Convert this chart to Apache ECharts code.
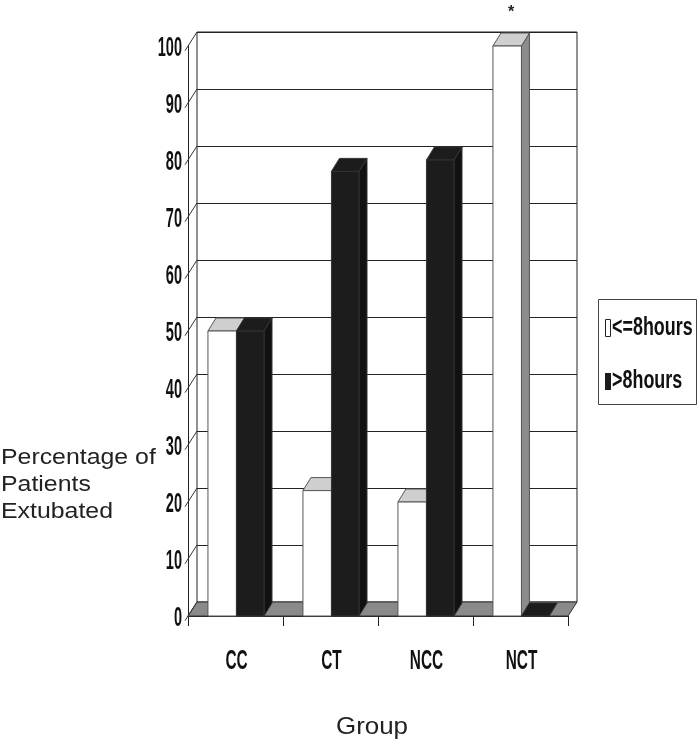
<!DOCTYPE html>
<html>
<head>
<meta charset="utf-8">
<script src="https://cdn.jsdelivr.net/npm/echarts@6/dist/echarts.min.js"></script>
<style>
html,body{margin:0;padding:0;background:#fff;}
#c{width:700px;height:739px;}
</style>
</head>
<body>
<div id="c"></div>
<script>
// ---- data ----
const categories = ['CC', 'CT', 'NCC', 'NCT'];
const le8hours = [50, 22, 20, 100];   // white bars
const gt8hours = [50, 78, 80, 0];     // black bars
const annotations = ['', '', '', '*'];
const yTicks = [0, 10, 20, 30, 40, 50, 60, 70, 80, 90, 100];
const seriesNames = ['<=8hours', '>8hours'];
const yTitleLines = ['Percentage of', 'Patients', 'Extubated'];
const xTitle = 'Group';

// ---- style constants ----
const DEPTH_X = 9, DEPTH_Y = -14;       // floor / wall depth
const BAR_DX = 8, BAR_DY = -13;         // bar depth
const NARROW = 'bold 28px "Liberation Sans", Arial, sans-serif';
const WHITE_BAR = '#ffffff', BLACK_BAR = '#1c1c1c';

const chart = echarts.init(document.getElementById('c'), null, {renderer: 'canvas'});

function barRenderer(kind) {
  return function (params, api) {
    const i = api.value(0), v = api.value(1);
    const base = api.coord([i, 0]);
    const top = api.coord([i, v]);
    const bw = api.size([1, 0])[0];
    const x1 = base[0] + (kind === 0 ? -0.29 : 0.01) * bw;
    const x2 = base[0] + (kind === 0 ? 0.01 : 0.30) * bw;
    const y0 = base[1], yt = top[1];
    const front = kind === 0 ? WHITE_BAR : BLACK_BAR;
    const topC = kind === 0 ? '#cfcfcf' : BLACK_BAR;
    const side = kind === 0 ? '#8c8c8c' : '#111111';
    const edge = kind === 0 ? '#555' : '#333';
    const children = [
      {type: 'polygon', shape: {points: [[x2, yt], [x2 + BAR_DX, yt + BAR_DY], [x2 + BAR_DX, y0 + BAR_DY], [x2, y0]]},
       style: {fill: side, stroke: edge, lineWidth: 1}},
      {type: 'polygon', shape: {points: [[x1, yt], [x1 + BAR_DX, yt + BAR_DY], [x2 + BAR_DX, yt + BAR_DY], [x2, yt]]},
       style: {fill: topC, stroke: edge, lineWidth: 1}}
    ];
    if (y0 - yt > 0.5) {
      children.push({type: 'rect', shape: {x: x1, y: yt, width: x2 - x1, height: y0 - yt},
        style: {fill: front, stroke: edge, lineWidth: 1}});
    }
    const ann = api.value(2);
    if (kind === 0 && ann) {
      children.push({type: 'text', x: (x1 + x2) / 2 + BAR_DX / 2, y: yt + BAR_DY - 20,
        style: {text: ann, font: 'bold 16px "Liberation Sans", Arial, sans-serif', fill: '#222', align: 'center', verticalAlign: 'middle'}});
    }
    return {type: 'group', children: children};
  };
}

const LEGEND_FONT = 'bold 28px "Liberation Sans", Arial, sans-serif';

const option = {
  animation: false,
  backgroundColor: '#ffffff',
  grid: [
    {left: 188, top: 46, width: 380, height: 570, show: false},
    {left: 197, top: 32, width: 380, height: 570, show: true, backgroundColor: '#ffffff', borderColor: '#222', borderWidth: 1}
  ],
  xAxis: [
    {type: 'category', gridIndex: 0, data: categories, boundaryGap: true,
     axisLine: {show: true, lineStyle: {color: '#222', width: 1}},
     axisTick: {show: true, length: 10, interval: 0, lineStyle: {color: '#222'}},
     axisLabel: {show: false}, splitLine: {show: false}},
    {type: 'category', gridIndex: 1, data: categories, show: false}
  ],
  yAxis: [
    {type: 'value', gridIndex: 0, min: 0, max: 100, interval: 10,
     axisLine: {show: true, lineStyle: {color: '#222', width: 1}},
     axisTick: {show: false}, axisLabel: {show: false}, splitLine: {show: false}},
    {type: 'value', gridIndex: 1, min: 0, max: 100, interval: 10,
     axisLine: {show: false}, axisTick: {show: false}, axisLabel: {show: false},
     splitLine: {show: true, lineStyle: {color: '#222', width: 1}}}
  ],
  graphic: [
    {type: 'text', left: 1, top: 444, scaleX: 1.13,
     style: {text: yTitleLines.join('\n'), font: '22px "Liberation Sans", Arial, sans-serif', lineHeight: 27, fill: '#222'}},
    {type: 'text', x: 372, y: 727, scaleX: 1.08,
     style: {text: xTitle, font: '24px "Liberation Sans", Arial, sans-serif', fill: '#222', align: 'center', verticalAlign: 'middle'}},
    // legend
    {type: 'group', children: [
      {type: 'rect', shape: {x: 598.5, y: 299.5, width: 98, height: 105}, style: {fill: '#fff', stroke: '#444', lineWidth: 1}},
      {type: 'rect', shape: {x: 605.5, y: 319.5, width: 5, height: 17}, style: {fill: WHITE_BAR, stroke: '#222', lineWidth: 1}},
      {type: 'text', x: 612, y: 328, scaleX: 0.64, scaleY: 0.92,
       style: {text: seriesNames[0], font: LEGEND_FONT, fill: '#111', align: 'left', verticalAlign: 'middle'}},
      {type: 'rect', shape: {x: 605, y: 373, width: 6, height: 17}, style: {fill: BLACK_BAR}},
      {type: 'text', x: 612, y: 381, scaleX: 0.64, scaleY: 0.92,
       style: {text: seriesNames[1], font: LEGEND_FONT, fill: '#111', align: 'left', verticalAlign: 'middle'}}
    ]}
  ],
  series: [
    // floor
    {type: 'custom', xAxisIndex: 0, yAxisIndex: 0, silent: true, z: 1,
     data: [[0, 0]],
     renderItem: function (params, api) {
       const cs = params.coordSys;
       const yb = api.coord([0, 0])[1];
       const xl = cs.x, xr = cs.x + cs.width;
       return {type: 'polygon', shape: {points: [[xl, yb], [xl + DEPTH_X, yb + DEPTH_Y], [xr + DEPTH_X, yb + DEPTH_Y], [xr, yb]]},
               style: {fill: '#8a8a8a', stroke: '#333', lineWidth: 1}};
     }},
    // side wall diagonal gridlines + y tick labels
    {type: 'custom', xAxisIndex: 0, yAxisIndex: 0, silent: true, z: 1,
     data: yTicks.map(function (t) { return [0, t]; }),
     renderItem: function (params, api) {
       const cs = params.coordSys;
       const y = api.coord([0, api.value(1)])[1];
       const x = cs.x;
       return {type: 'group', children: [
         {type: 'line', shape: {x1: x - 3, y1: y + 3 * (-DEPTH_Y / DEPTH_X), x2: x + DEPTH_X, y2: y + DEPTH_Y},
          style: {stroke: '#333', lineWidth: 1}},
         {type: 'text', x: x - 6, y: y + 2, scaleX: 0.52,
          style: {text: String(api.value(1)), font: NARROW, fill: '#111', align: 'right', verticalAlign: 'middle'}}
       ]};
     }},
    // x category labels
    {type: 'custom', xAxisIndex: 0, yAxisIndex: 0, silent: true, z: 1,
     data: categories.map(function (c, i) { return [i, 0]; }),
     renderItem: function (params, api) {
       const p = api.coord([api.value(0), 0]);
       return {type: 'text', x: p[0] + 1, y: p[1] + 45, scaleX: 0.55,
               style: {text: categories[api.value(0)], font: NARROW, fill: '#111', align: 'center', verticalAlign: 'middle'}};
     }},
    {type: 'custom', name: seriesNames[0], xAxisIndex: 0, yAxisIndex: 0, z: 3,
     itemStyle: {color: WHITE_BAR, borderColor: '#222'},
     data: categories.map(function (c, i) { return [i, le8hours[i], annotations[i]]; }),
     encode: {x: 0, y: 1},
     renderItem: barRenderer(0)},
    {type: 'custom', name: seriesNames[1], xAxisIndex: 0, yAxisIndex: 0, z: 4,
     itemStyle: {color: BLACK_BAR},
     data: categories.map(function (c, i) { return [i, gt8hours[i], '']; }),
     encode: {x: 0, y: 1},
     renderItem: barRenderer(1)}
  ]
};
chart.setOption(option);
</script>
</body>
</html>
